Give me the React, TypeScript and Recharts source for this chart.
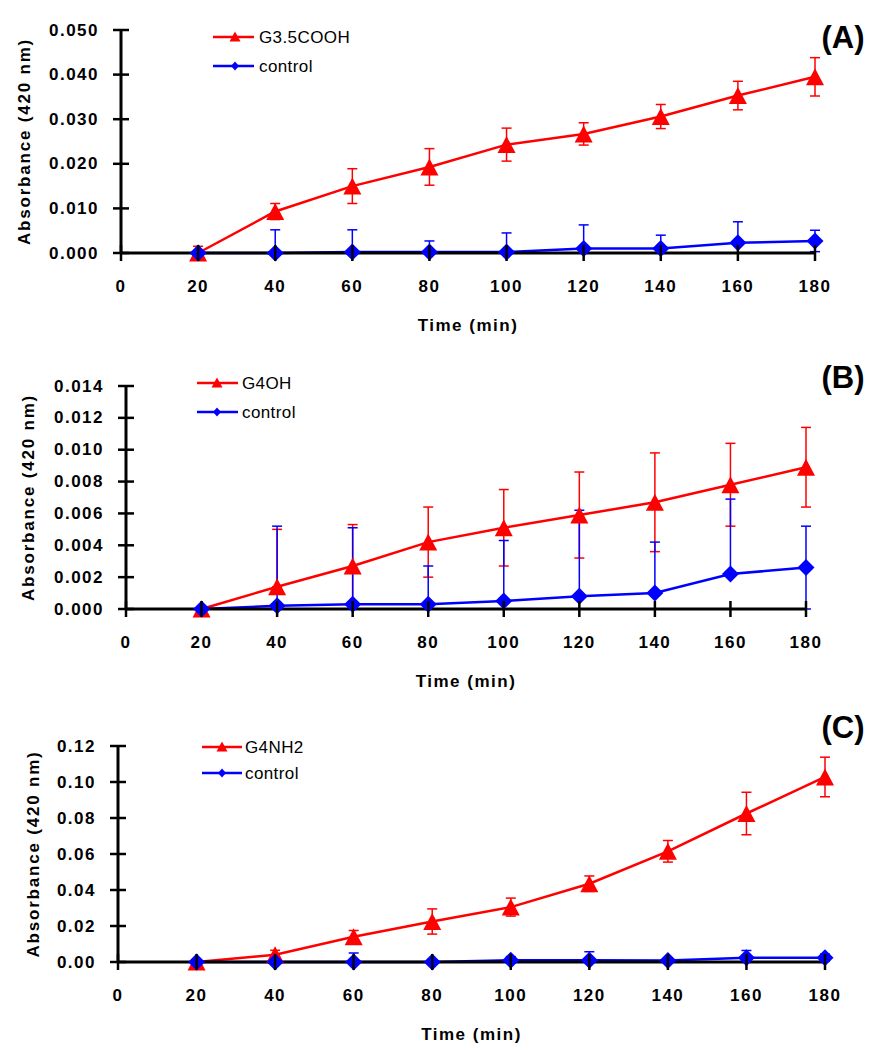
import { LineChart, Line, XAxis, YAxis, ErrorBar, Label, Legend } from 'recharts'

const times = [20, 40, 60, 80, 100, 120, 140, 160, 180]
const timeTicks = [0, 20, 40, 60, 80, 100, 120, 140, 160, 180]

// (A) G3.5COOH
const g35Cooh = [0, 0.0093, 0.015, 0.0193, 0.0243, 0.0267, 0.0306, 0.0353, 0.0395]
const g35CoohErr = [0.0015, 0.0018, 0.0039, 0.0041, 0.0037, 0.0025, 0.0027, 0.0032, 0.0043]
const controlA = [0, 0, 0.0002, 0.0002, 0.0002, 0.001, 0.001, 0.0023, 0.0027]
const controlAErr = [0, 0.0052, 0.005, 0.0025, 0.0043, 0.0053, 0.003, 0.0047, 0.0024]
const ticksA = [0, 0.01, 0.02, 0.03, 0.04, 0.05]

// (B) G4OH
const g4Oh = [0, 0.0014, 0.0027, 0.0042, 0.0051, 0.0059, 0.0067, 0.0078, 0.0089]
const g4OhErr = [0, 0.0036, 0.0026, 0.0022, 0.0024, 0.0027, 0.0031, 0.0026, 0.0025]
const controlB = [0, 0.0002, 0.0003, 0.0003, 0.0005, 0.0008, 0.001, 0.0022, 0.0026]
const controlBErr = [0, 0.005, 0.0048, 0.0024, 0.0038, 0.0054, 0.0032, 0.0047, 0.0026]
const ticksB = [0, 0.002, 0.004, 0.006, 0.008, 0.01, 0.012, 0.014]

// (C) G4NH2
const g4Nh2 = [0, 0.004, 0.014, 0.0225, 0.0305, 0.0435, 0.0615, 0.0825, 0.1028]
const g4Nh2Err = [0.001, 0.0025, 0.0035, 0.007, 0.005, 0.0043, 0.006, 0.0118, 0.011]
const controlC = [0, 0, 0, 0, 0.001, 0.001, 0.0008, 0.0024, 0.0024]
const controlCErr = [0, 0.001, 0.005, 0.001, 0.002, 0.0047, 0.001, 0.004, 0.002]
const ticksC = [0, 0.02, 0.04, 0.06, 0.08, 0.1, 0.12]

const RED = '#ff0000'
const BLUE = '#0000ff'
const FONT = '"Liberation Sans", Arial, sans-serif'
const W = 877

type Box = { left: number; right: number; top: number; bottom: number }
type LegendPos = { x0: number; x1: number; mx: number; tx: number; y1: number; y2: number }

/* ── markers ─────────────────────────────────────────── */
function triangle(p: any) {
  const { cx, cy, index } = p
  if (cx == null || cy == null) return <g key={`t-${index}`} />
  return <path key={`t-${index}`} d={`M${cx},${cy - 8.5} L${cx + 9},${cy + 8.5} L${cx - 9},${cy + 8.5} Z`} fill={RED} />
}

function diamond(p: any) {
  const { cx, cy, index } = p
  if (cx == null || cy == null) return <g key={`d-${index}`} />
  return <path key={`d-${index}`} d={`M${cx},${cy - 8.5} L${cx + 8.5},${cy} L${cx},${cy + 8.5} L${cx - 8.5},${cy} Z`} fill={BLUE} />
}

/* ── ticks (cross the axis like the Excel original) ──── */
const tickText = { fontFamily: FONT, fontSize: 17, fontWeight: 'bold' as const, letterSpacing: 1.5, fill: '#000' }

function XTick(props: any) {
  const { x, y, payload } = props
  return (
    <g>
      <line x1={x} x2={x} y1={y - 8} y2={y + 8} stroke="#000" strokeWidth={2.5} />
      <text x={x} y={y + 33} textAnchor="middle" dominantBaseline="central" style={tickText}>{payload.value}</text>
    </g>
  )
}

const makeYTick = (decimals: number) => (props: any) => {
  const { x, y, payload } = props
  return (
    <g>
      <line x1={x - 8} x2={x + 8} y1={y} y2={y} stroke="#000" strokeWidth={2.5} />
      <text x={x - 22} y={y} textAnchor="end" dominantBaseline="central" style={tickText}>
        {Number(payload.value).toFixed(decimals)}
      </text>
    </g>
  )
}

// lower half of a bar is cut off by the axis in the original: drop it when it would go below zero
const errPair = (e: number, v: number) => [e > v ? 0 : e, e]

/* ── one panel ───────────────────────────────────────── */
type PanelProps = {
  height: number
  plot: Box
  letter: string
  name: string
  red: number[]
  redErr: number[]
  blue: number[]
  blueErr: number[]
  yTicks: number[]
  decimals: number
  yLabelX: number
  legend: LegendPos
}

function Panel(p: PanelProps) {
  const rows = times.map((t, i) => ({
    t,
    red: p.red[i],
    redErr: errPair(p.redErr[i], p.red[i]),
    blue: p.blue[i],
    blueErr: errPair(p.blueErr[i], p.blue[i]),
  }))
  const yW = 60
  const xH = 70
  const margin = {
    top: p.plot.top,
    left: p.plot.left - yW,
    right: W - p.plot.right,
    bottom: p.height - p.plot.bottom - xH,
  }
  const lg = p.legend

  const legendContent = () => (
    <svg width={W} height={p.height} style={{ display: 'block' }}>
      <line x1={lg.x0} x2={lg.x1} y1={lg.y1} y2={lg.y1} stroke={RED} strokeWidth={2.5} />
      <path d={`M${lg.mx},${lg.y1 - 5.5} L${lg.mx + 5.5},${lg.y1 + 4.5} L${lg.mx - 5.5},${lg.y1 + 4.5} Z`} fill={RED} />
      <text x={lg.tx} y={lg.y1} dominantBaseline="central" style={{ fontFamily: FONT, fontSize: 17, letterSpacing: 0.4 }}>{p.name}</text>
      <line x1={lg.x0} x2={lg.x1} y1={lg.y2} y2={lg.y2} stroke={BLUE} strokeWidth={2.5} />
      <path d={`M${lg.mx},${lg.y2 - 4.5} L${lg.mx + 4},${lg.y2} L${lg.mx},${lg.y2 + 4.5} L${lg.mx - 4},${lg.y2} Z`} fill={BLUE} />
      <text x={lg.tx} y={lg.y2} dominantBaseline="central" style={{ fontFamily: FONT, fontSize: 17, letterSpacing: 0.4 }}>control</text>
      <text x={843} y={37} textAnchor="middle" dominantBaseline="central" style={{ fontFamily: FONT, fontSize: 31, fontWeight: 'bold' }}>{p.letter}</text>
    </svg>
  )

  return (
    <LineChart width={W} height={p.height} data={rows} margin={margin}>
      <XAxis
        dataKey="t" type="number" domain={[0, 180]} ticks={timeTicks} interval={0}
        height={xH} tickSize={0} tickMargin={0} tickLine={false}
        axisLine={{ stroke: '#000', strokeWidth: 3 }} tick={<XTick />}
      >
        <Label
          content={(lp: any) => {
            const vb = lp.viewBox
            return (
              <text x={vb.x + vb.width / 2} y={vb.y + 72} textAnchor="middle" dominantBaseline="central"
                style={{ ...tickText }}>Time (min)</text>
            )
          }}
        />
      </XAxis>
      <YAxis
        type="number" domain={[0, p.yTicks[p.yTicks.length - 1]]} ticks={p.yTicks} interval={0}
        width={yW} tickSize={0} tickMargin={0} tickLine={false}
        axisLine={{ stroke: '#000', strokeWidth: 3 }} tick={makeYTick(p.decimals)}
      >
        <Label
          content={(lp: any) => {
            const vb = lp.viewBox
            const cy = vb.y + vb.height / 2
            return (
              <text x={p.yLabelX} y={cy} transform={`rotate(-90 ${p.yLabelX} ${cy})`} textAnchor="middle"
                dominantBaseline="central" style={{ ...tickText, letterSpacing: 1.8 }}>Absorbance (420 nm)</text>
            )
          }}
        />
      </YAxis>
      <Legend layout="vertical" align="center" verticalAlign="middle"
        wrapperStyle={{ left: 0, top: 0, width: W, height: p.height }} content={legendContent} />
      <Line dataKey="red" stroke={RED} strokeWidth={2.5} dot={triangle} activeDot={false} isAnimationActive={false}>
        <ErrorBar dataKey="redErr" direction="y" width={5} stroke={RED} strokeWidth={1.5} />
      </Line>
      <Line dataKey="blue" stroke={BLUE} strokeWidth={2.5} dot={diamond} activeDot={false} isAnimationActive={false}>
        <ErrorBar dataKey="blueErr" direction="y" width={5} stroke={BLUE} strokeWidth={1.5} />
      </Line>
    </LineChart>
  )
}

export default function App() {
  return (
    <div style={{ position: 'absolute', left: 0, top: 0, width: W, height: 1050, background: '#fff' }}>
      <Panel
        height={340} plot={{ left: 121, right: 815, top: 30, bottom: 253 }} letter="(A)" name="G3.5COOH"
        red={g35Cooh} redErr={g35CoohErr} blue={controlA} blueErr={controlAErr}
        yTicks={ticksA} decimals={3} yLabelX={24}
        legend={{ x0: 213, x1: 254, mx: 235, tx: 259, y1: 37, y2: 66 }}
      />
      <Panel
        height={350} plot={{ left: 126, right: 806, top: 46, bottom: 269 }} letter="(B)" name="G4OH"
        red={g4Oh} redErr={g4OhErr} blue={controlB} blueErr={controlBErr}
        yTicks={ticksB} decimals={3} yLabelX={28}
        legend={{ x0: 197, x1: 238, mx: 217, tx: 242, y1: 43, y2: 72 }}
      />
      <Panel
        height={360} plot={{ left: 118, right: 825, top: 56, bottom: 272 }} letter="(C)" name="G4NH2"
        red={g4Nh2} redErr={g4Nh2Err} blue={controlC} blueErr={controlCErr}
        yTicks={ticksC} decimals={2} yLabelX={33}
        legend={{ x0: 202, x1: 242, mx: 222, tx: 245, y1: 57, y2: 83 }}
      />
    </div>
  )
}
